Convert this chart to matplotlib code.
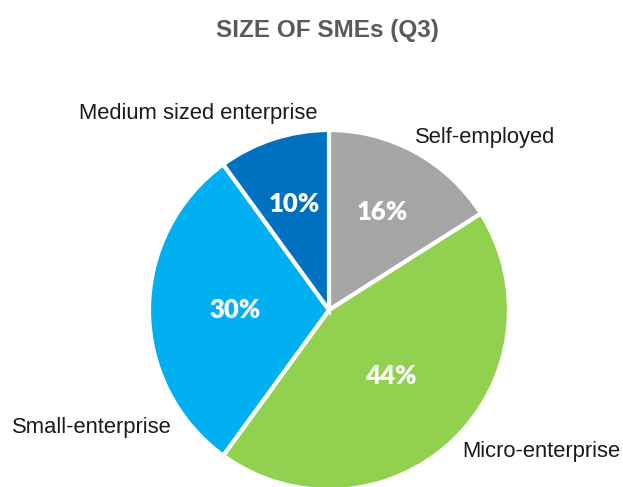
import numpy as np
import matplotlib.pyplot as plt

# Data
categories = ['Self-employed', 'Micro-enterprise', 'Small-enterprise', 'Medium sized enterprise']
shares = [16, 44, 30, 10]
colors = ['#A5A5A5', '#92D050', '#00B0F0', '#0070C0']

W, H = 623, 487
cx, cy, r = 329, 310, 180

fig = plt.figure(figsize=(W / 100, H / 100), dpi=100)
ax = fig.add_axes([(cx - r) / W, (H - cy - r) / H, 2 * r / W, 2 * r / H])

wedges, texts = ax.pie(
    shares, colors=colors, startangle=90, counterclock=False,
    wedgeprops=dict(edgecolor='white', linewidth=3))
ax.set_xlim(-1, 1)
ax.set_ylim(-1, 1)
ax.set_aspect('equal')
ax.axis('off')

# percentage labels inside the slices
pct_dist = [0.62, 0.5, 0.52, 0.62]
for w, val, d in zip(wedges, shares, pct_dist):
    mid = np.deg2rad((w.theta1 + w.theta2) / 2)
    ax.text(d * np.cos(mid), d * np.sin(mid), f'{val}%', ha='center', va='center',
            color='white', fontsize=18.5, fontweight='heavy', family='Lato')

# outer labels (pixel positions in reference)
label_pos = [(485, 137), (541, 452), (92, 428), (198, 113)]
for name, (px, py) in zip(categories, label_pos):
    fig.text(px / W, 1 - py / H, name, ha='center', va='center',
             fontsize=15.8, family='Liberation Sans', color='#1a1a1a')

fig.text(327 / W, 1 - 30 / H, 'SIZE OF SMEs (Q3)', ha='center', va='center',
         fontsize=17.5, fontweight='bold', family='Liberation Sans', color='#595959')

fig.savefig('out.png', dpi=100)
